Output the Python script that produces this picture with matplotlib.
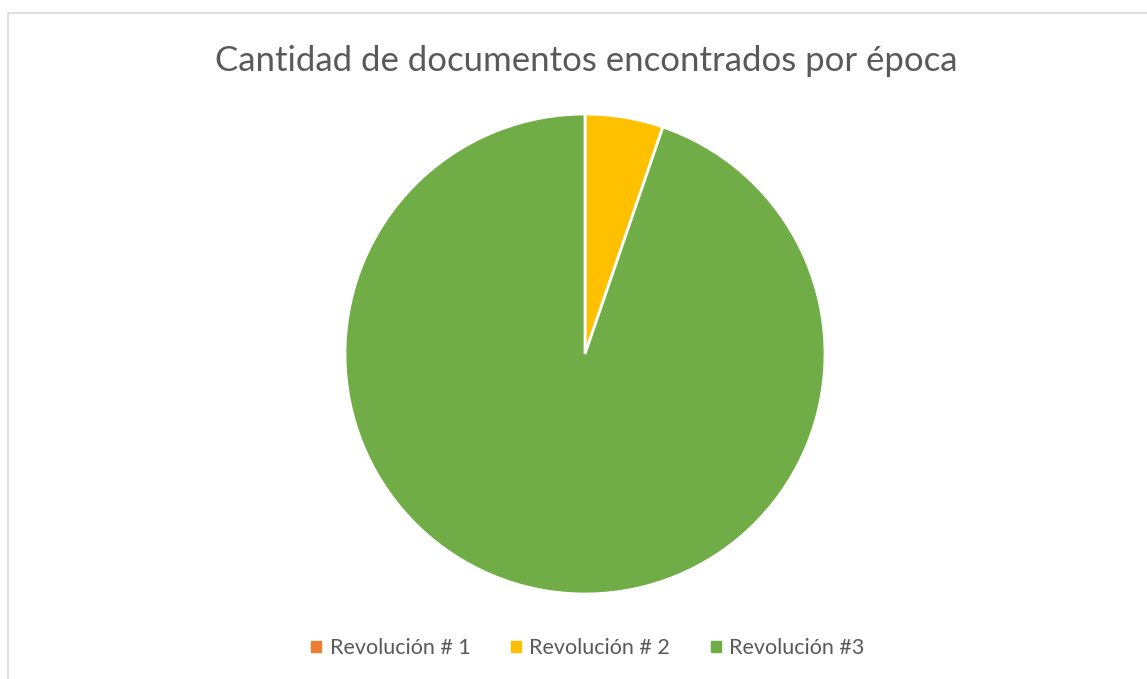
import matplotlib.pyplot as plt
from matplotlib.patches import Rectangle

plt.rcParams['font.family'] = ['Lato', 'DejaVu Sans']

labels = ['Revolución # 1', 'Revolución # 2', 'Revolución #3']
values = [0, 1, 18]
colors = ['#ED7D31', '#FFC000', '#70AD47']
title = 'Cantidad de documentos encontrados por época'

fig = plt.figure(figsize=(11.47, 6.79), dpi=100)
fig.patches.append(Rectangle((8 / 1147, -0.1), 1.2, 1 - 13 / 679 + 0.1,
                             transform=fig.transFigure, fill=False,
                             edgecolor='#D9D9D9', linewidth=1.2))

# axes sized so the pie has radius ~240 px centred at (585, 354)
ax = fig.add_axes([(585 - 240) / 1147, (679 - 354 - 240) / 679, 480 / 1147, 480 / 679])
wedges, _ = ax.pie(values, colors=colors, startangle=90, counterclock=False,
                   radius=1.0, wedgeprops=dict(edgecolor='white', linewidth=2))
ax.set_xlim(-1, 1)
ax.set_ylim(-1, 1)
ax.set_aspect('equal')

fig.text(586 / 1147, 1 - 61 / 679, title, ha='center', va='center',
         fontsize=25, color='#595959')

handles = [plt.Rectangle((0, 0), 1, 1, color=c) for c in colors]
fig.legend(handles, labels, loc='center', bbox_to_anchor=(588 / 1147, 1 - 648 / 679),
           ncol=3, frameon=False, fontsize=15.5, labelcolor='#595959',
           handlelength=0.45, handleheight=0.45, handletextpad=0.4, columnspacing=1.9)

fig.savefig('out.png', dpi=100)
